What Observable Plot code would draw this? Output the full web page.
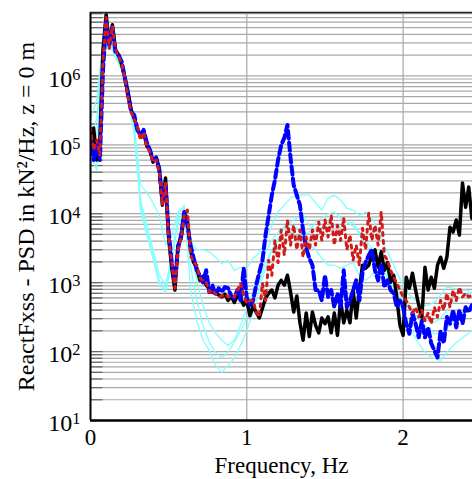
<!DOCTYPE html>
<html><head><meta charset="utf-8">
<script src="https://cdn.jsdelivr.net/npm/d3@7"></script>
<script src="https://cdn.jsdelivr.net/npm/@observablehq/plot@0.6"></script>
<style>body{margin:0;background:#fff}</style>
</head><body><div id="chart"></div>
<script>
// frequency grids (Hz)
const freqFine = [0,0.02,0.04,0.06,0.08,0.10,0.12,0.14,0.16,0.18,0.20,0.22,0.24,0.26,0.28,0.30,0.32,0.34,0.36,0.38,0.40,0.42,0.44,0.46,0.48,0.50,0.52,0.54,0.56,0.58,0.60,0.62,0.64,0.66,0.68,0.70,0.72,0.74,0.76,0.78,0.80,0.82,0.84,0.86,0.88,0.90,0.92,0.94,0.96,0.98,1.00,1.02,1.04,1.06,1.08,1.10,1.12,1.14,1.16,1.18,1.20,1.22,1.24,1.26,1.28,1.30,1.32,1.34,1.36,1.38,1.40,1.42,1.44,1.46,1.48,1.50,1.52,1.54,1.56,1.58,1.60,1.62,1.64,1.66,1.68,1.70,1.72,1.74,1.76,1.78,1.80,1.82,1.84,1.86,1.88,1.90,1.92,1.94,1.96,1.98,2.00,2.02,2.04,2.06,2.08,2.10,2.12,2.14,2.16,2.18,2.20,2.22,2.24,2.26,2.28,2.30,2.32,2.34,2.36,2.38,2.40,2.42,2.44];
const freqCoarse = [0,0.04,0.08,0.12,0.16,0.20,0.24,0.28,0.32,0.36,0.40,0.44,0.48,0.52,0.56,0.60,0.64,0.68,0.72,0.76,0.80,0.84,0.88,0.92,0.96,1.00,1.04,1.08,1.12,1.16,1.20,1.24,1.28,1.32,1.36,1.40,1.44,1.48,1.52,1.56,1.60,1.64,1.68,1.72,1.76,1.80,1.84,1.88,1.92,1.96,2.00,2.04,2.08,2.12,2.16,2.20,2.24,2.28,2.32,2.36,2.40,2.44];

// PSD values, kN^2/Hz
const black = [8.4e4,1.75e5,6.0e4,1.17e5,2.4e6,7.7e6,2.8e6,5.5e6,2.4e6,2.0e6,1.45e6,9.3e5,5.9e5,3.2e5,2.4e5,1.75e5,1.3e5,1.53e5,9.6e4,8.4e4,5.6e4,6.6e4,4.6e4,1.33e4,3.3e4,4400,1620,780,3500,4400,1.06e4,8100,3000,1960,1620,1080,1240,920,830,730,700,660,620,680,550,640,515,640,600,470,550,330,455,374,307,425,600,700,780,600,920,1080,920,1280,730,374,640,262,146,362,166,374,240,187,307,253,318,187,362,172,550,262,400,262,780,307,780,1790,1620,1790,2500,3000,1670,2800,1510,1960,1010,1280,600,240,172,1200,830,1370,780,470,318,1670,780,1200,830,1790,2340,1620,2340,6360,5420,8100,4900,2.8e4,1.24e4,2.43e4,8600];
const blue = [1.39e5,6.0e4,9.9e4,6.0e4,1.22e6,6.1e6,2.8e6,5.0e6,2.2e6,2.0e6,1.6e6,9.3e5,5.3e5,3.0e5,2.7e5,1.64e5,1.39e5,1.64e5,1.09e5,8.4e4,6.0e4,6.4e4,4.3e4,1.58e4,2.6e4,5420,1960,1010,3160,4900,1.06e4,6800,3500,2260,1510,1280,1010,1510,730,920,660,830,730,860,830,640,600,780,550,1620,600,470,550,920,1410,2100,4900,9500,1.86e4,3.1e4,6.0e4,9.9e4,1.26e5,1.94e5,6.4e4,2.6e4,1.86e4,1.33e4,5800,3160,2260,1790,780,780,550,1280,620,780,440,700,440,1510,440,550,780,1080,550,1370,1960,2500,3000,1510,1080,1900,860,1080,780,700,440,550,440,253,181,362,253,161,280,161,224,132,104,82,200,132,318,253,400,224,400,253,440,374,470];
const red = [1.75e5,8.4e4,1.17e5,7.1e4,1.7e6,7.0e6,2.5e6,5.3e6,2.4e6,1.93e6,1.49e6,9.3e5,4.8e5,3.0e5,2.3e5,1.88e5,1.17e5,1.53e5,9.6e4,7.9e4,5.6e4,6.0e4,4.0e4,1.33e4,2.9e4,4400,1960,830,3000,4400,9500,1.13e4,2500,1960,1790,1160,1080,1010,730,780,680,620,640,680,620,640,620,780,980,660,500,550,550,374,318,980,550,2100,1280,4100,1960,5800,2500,8100,3500,6800,3000,5800,2340,4580,3000,5800,3500,7570,4100,8100,4580,9500,3500,6800,4100,8600,3000,4900,2100,3500,1790,6150,3000,1.02e4,4100,6800,3500,1.06e4,2500,2100,1510,1200,980,780,620,550,440,362,440,318,400,280,362,253,440,318,550,400,700,440,780,550,860,620,700,620,660];
const cyan1 = [2.3e5,4.5e5,3.3e6,3.1e6,2.4e6,1.6e6,7.4e5,1.94e5,2.6e4,2.06e4,1.43e4,9500,3500,4900,1.06e4,1.24e4,4100,3000,3000,2800,2340,1900,2100,1510,1670,1620,2260,2700,3830,6800,1.06e4,1.33e4,1.68e4,1.86e4,1.86e4,1.86e4,1.43e4,1.13e4,1.68e4,1.86e4,1.58e4,1.2e4,1.13e4,9500,1.06e4,8600,5800,3500,2260,1410,920,660,550,470,470,515,660,860,830,780,780,730];
const cyan2 = [7.1e4,4.3e4,2.4e6,2.8e6,2.0e6,1.31e6,5.9e5,1.64e5,1.13e4,4900,2260,920,730,1960,9500,1.33e4,780,280,146,104,63,50,63,80,123,200,374,780,1620,3000,4400,6150,7570,8600,9500,6800,5420,6360,7570,6800,6360,7080,7570,4900,3500,2800,2260,1790,1160,660,374,240,155,111,88,80,74,97,123,146,172,200];
const cyan3 = [5.1e4,1.39e5,1.7e6,3.3e6,1.8e6,1.22e6,5.3e5,1.39e5,1.58e4,6800,3000,1280,920,2260,6800,1.2e4,3500,1080,470,262,187,146,123,146,240,425,730,1410,2800,4100,5420,6580,6800,6150,4900,5420,7570,8600,9900,1.06e4,8600,7570,6580,5420,4100,3160,2260,1410,980,730,550,425,340,262,217,181,187,217,280,340,400,470];
const cyan4 = [1.17e5,2.4e5,2.8e6,3.1e6,1.93e6,1.4e6,6.7e5,1.75e5,1.33e4,5800,2500,1080,780,2500,8100,1.06e4,1790,550,240,137,97,82,97,137,200,307,550,1010,1960,3000,4100,4900,5420,4740,4100,3500,3000,2260,1790,1790,1620,1790,1960,1280,1080,1280,1620,1620,1160,830,600,470,400,330,280,262,307,400,515,600,660,700];

const xTicks = [0, 1, 2];
const yTicks = [1e1, 1e2, 1e3, 1e4, 1e5, 1e6];
const yLabel = "ReactFxss - PSD in kN\u00B2/Hz, z = 0 m";
const xLabel = "Frequency, Hz";

const yTop = 8.3e6;
const yGrid = [];
for (let k = 1; k <= 6; k++) for (let m = 1; m <= 9; m++) { const v = m * 10 ** k; if (v < yTop) yGrid.push(v); }

const rows = (fs, vs, id) => fs.map((f, i) => ({f, v: vs[i], id}));
const cyanRows = [cyan1, cyan2, cyan3, cyan4].flatMap((vs, k) => rows(freqCoarse, vs, "c" + k));

const serif = "'Liberation Serif', 'Times New Roman', Times, serif";

const plot = Plot.plot({
  width: 472, height: 479,
  marginLeft: 90, marginRight: 0, marginTop: 12, marginBottom: 59,
  style: {fontFamily: serif, fontSize: "23px", background: "#fff", color: "#000", overflow: "visible"},
  x: {domain: [0, 2.444]},
  y: {type: "log", domain: [10, yTop]},
  marks: [
    Plot.ruleY(yGrid, {stroke: "#a8a8a8", strokeWidth: 1.2}),
    Plot.ruleX([1, 2], {stroke: "#a8a8a8", strokeWidth: 1.2}),
    Plot.ruleY(yGrid, {x1: 0, x2: 0.08, stroke: "#666", strokeWidth: 1.2}),
    Plot.line(cyanRows, {x: "f", y: "v", z: "id", stroke: "#80ffff", strokeWidth: 1.3, clip: true}),
    Plot.line(rows(freqFine, black), {x: "f", y: "v", stroke: "#000", strokeWidth: 3.5, clip: true}),
    Plot.line(rows(freqFine, blue), {x: "f", y: "v", stroke: "#0000ff", strokeWidth: 4, strokeDasharray: "8,4", clip: true}),
    Plot.line(rows(freqFine, red), {x: "f", y: "v", stroke: "#d21a1a", strokeWidth: 3, strokeDasharray: "3,5", clip: true}),
    Plot.ruleX([0], {stroke: "#000", strokeWidth: 2}),
    Plot.ruleY([10], {stroke: "#000", strokeWidth: 2.5}),
    Plot.ruleY([yTop], {stroke: "#222", strokeWidth: 1.5}),
    Plot.axisX({ticks: xTicks, tickFormat: d => String(d), tickSize: 0, tickPadding: 8, fontFamily: serif, fontSize: 23, label: xLabel, labelAnchor: "center", labelOffset: 52, labelArrow: "none"}),
    Plot.axisY({ticks: yTicks, tickFormat: d => "10^" + Math.round(Math.log10(d)), tickSize: 0, tickPadding: 10, dy: 3, fontFamily: serif, fontSize: 24, label: yLabel, labelAnchor: "center", labelOffset: 74, labelArrow: "none"})
  ]
});

const svgns = "http://www.w3.org/2000/svg";
d3.select(plot).selectAll('g[aria-label="y-axis tick label"] text').each(function () {
  const m = this.textContent.match(/^10\^(\d)$/);
  if (m) {
    this.textContent = "10";
    const ts = document.createElementNS(svgns, "tspan");
    ts.setAttribute("dy", "-0.42em");
    ts.setAttribute("font-size", "0.68em");
    ts.textContent = m[1];
    this.appendChild(ts);
  }
});
d3.select(plot).selectAll('g[aria-label="y-axis label"] text').attr("font-size", 24);
document.getElementById("chart").appendChild(plot);
</script>
</body></html>
